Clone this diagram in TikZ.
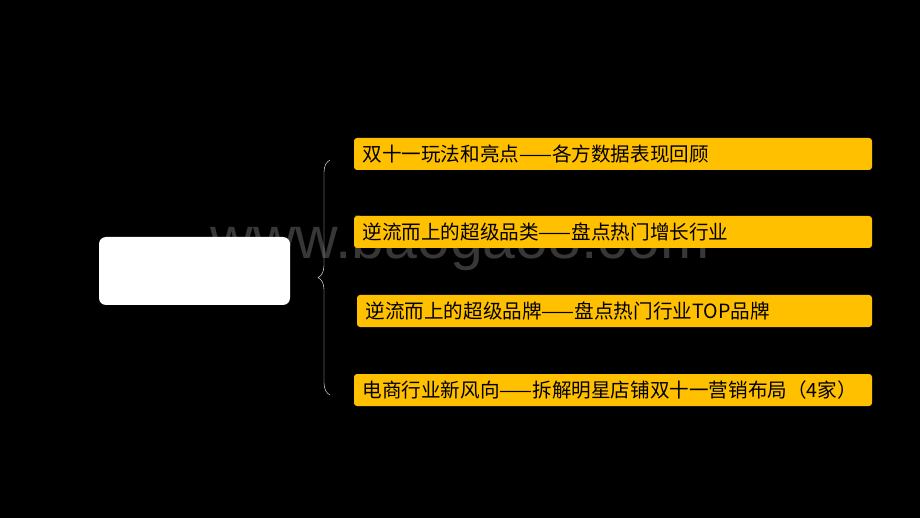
\documentclass[tikz,border=0pt]{standalone}
\usepackage{fontspec}
\setmainfont{Noto Sans CJK SC}
\setsansfont{Liberation Sans}
\usetikzlibrary{decorations.pathreplacing}
\definecolor{baryellow}{RGB}{255,192,0}
\definecolor{markgray}{RGB}{55,55,55}

\begin{document}
\begin{tikzpicture}[x=1pt,y=-1pt,
    bar/.style={fill=baryellow, rounded corners=3pt, inner sep=0pt},
    bartext/.style={anchor=west, font=\fontsize{19.6}{22}\selectfont, text=black}]
    \fill[black] (0,0) rectangle (920,518);
    \useasboundingbox (0,0) rectangle (920,518);
    \node[font=\sffamily\fontsize{59}{62}\selectfont, text=markgray] (mark) at (460,243) {www.baogao8.com};
    \fill[white, rounded corners=7pt] (99,237) rectangle (290,305);
    \node (root) at (194.5,271) {};
    \draw[white, thin, decorate, decoration={brace, amplitude=12pt}] (330,395) -- (330,160);
    \foreach \y/\x/\t in {138/354/双十一玩法和亮点——各方数据表现回顾,
                           216/354/逆流而上的超级品类——盘点热门增长行业,
                           295/357/逆流而上的超级品牌——盘点热门行业TOP品牌,
                           374/354/电商行业新风向——拆解明星店铺双十一营销布局（4家）} {
      \fill[bar] (\x,\y) rectangle (872,\y+32);
      \node[bartext] at (\x+5,\y+16) {\t};
    }
\end{tikzpicture}
\end{document}
